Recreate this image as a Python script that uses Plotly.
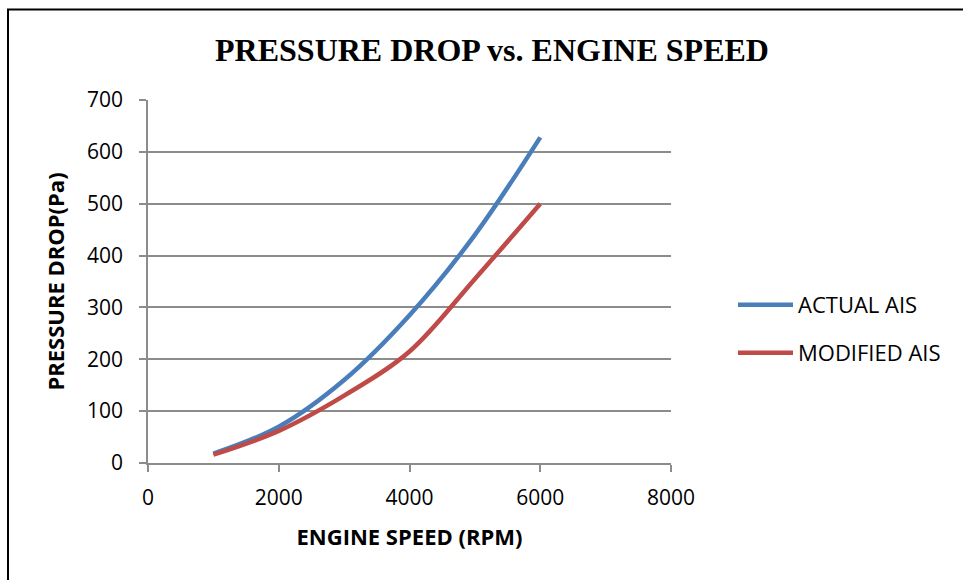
import plotly.graph_objects as go

rpm = [1000, 2000, 3000, 4000, 5000, 6000]
actual_ais = [18, 70, 160, 285, 440, 628]
modified_ais = [16, 62, 130, 215, 355, 500]

x_ticks = [0, 2000, 4000, 6000, 8000]
y_ticks = [0, 100, 200, 300, 400, 500, 600, 700]

blue = "#4A7EBB"
red = "#BE4B48"
grid = "#8C8C8C"
sans = "Open Sans, Liberation Sans, sans-serif"
tick_font = dict(family=sans, size=21, color="#000")

fig = go.Figure()
fig.add_trace(go.Scatter(x=rpm, y=actual_ais, mode="lines", name="ACTUAL AIS",
                         line=dict(color=blue, width=4.5, shape="spline", smoothing=1),
                         legend="legend", showlegend=True))
fig.add_trace(go.Scatter(x=rpm, y=modified_ais, mode="lines", name="MODIFIED AIS",
                         line=dict(color=red, width=4.5, shape="spline", smoothing=1),
                         legend="legend2", showlegend=True))

legend_common = dict(font=dict(family=sans, size=22, color="#000"),
                     bgcolor="rgba(0,0,0,0)", xanchor="left", yanchor="middle",
                     itemwidth=55, tracegroupgap=0)

fig.update_layout(
    width=963, height=580,
    showlegend=True,
    margin=dict(l=148, r=292, t=100, b=117),
    paper_bgcolor="white", plot_bgcolor="white",
    title=dict(text="<b>PRESSURE DROP vs. ENGINE SPEED</b>",
               font=dict(family="Liberation Serif, Times New Roman, serif", size=32, color="#000"),
               x=492/963, xanchor="center", y=1 - 50/580, yanchor="middle"),
    xaxis=dict(range=[0, 8000], tickvals=x_ticks, ticktext=[str(v) for v in x_ticks],
               showgrid=False, zeroline=False, showline=True, linecolor=grid, linewidth=1.5,
               ticks="outside", ticklen=7, tickcolor=grid, tickwidth=1.5,
               tickfont=tick_font, ticklabelstandoff=8,
               title=dict(text="<b>ENGINE SPEED (RPM)</b>",
                          font=dict(family=sans, size=22, color="#000"),
                          standoff=20)),
    yaxis=dict(range=[0, 700], tickvals=y_ticks, ticktext=[str(v) for v in y_ticks],
               showgrid=True, gridcolor=grid, gridwidth=1.5, zeroline=False,
               showline=True, linecolor=grid, linewidth=1.5,
               ticks="outside", ticklen=7, tickcolor=grid, tickwidth=1.5,
               tickfont=tick_font, ticklabelstandoff=12,
               title=dict(text="<b>PRESSURE DROP(Pa)</b>",
                          font=dict(family=sans, size=22, color="#000"),
                          standoff=16)),
    legend=dict(x=(733 - 148) / 523, y=(463 - 305) / 363, **legend_common),
    legend2=dict(x=(733 - 148) / 523, y=(463 - 353) / 363, **legend_common),
    shapes=[dict(type="rect", xref="paper", yref="paper",
                 x0=-(148 - 8) / 523, x1=(1000 - 148) / 523,
                 y0=-(620 - 463) / 363, y1=(463 - 9.5) / 363,
                 line=dict(color="#000", width=2), fillcolor="rgba(0,0,0,0)", layer="below")],
)

fig.write_html("out.html")
